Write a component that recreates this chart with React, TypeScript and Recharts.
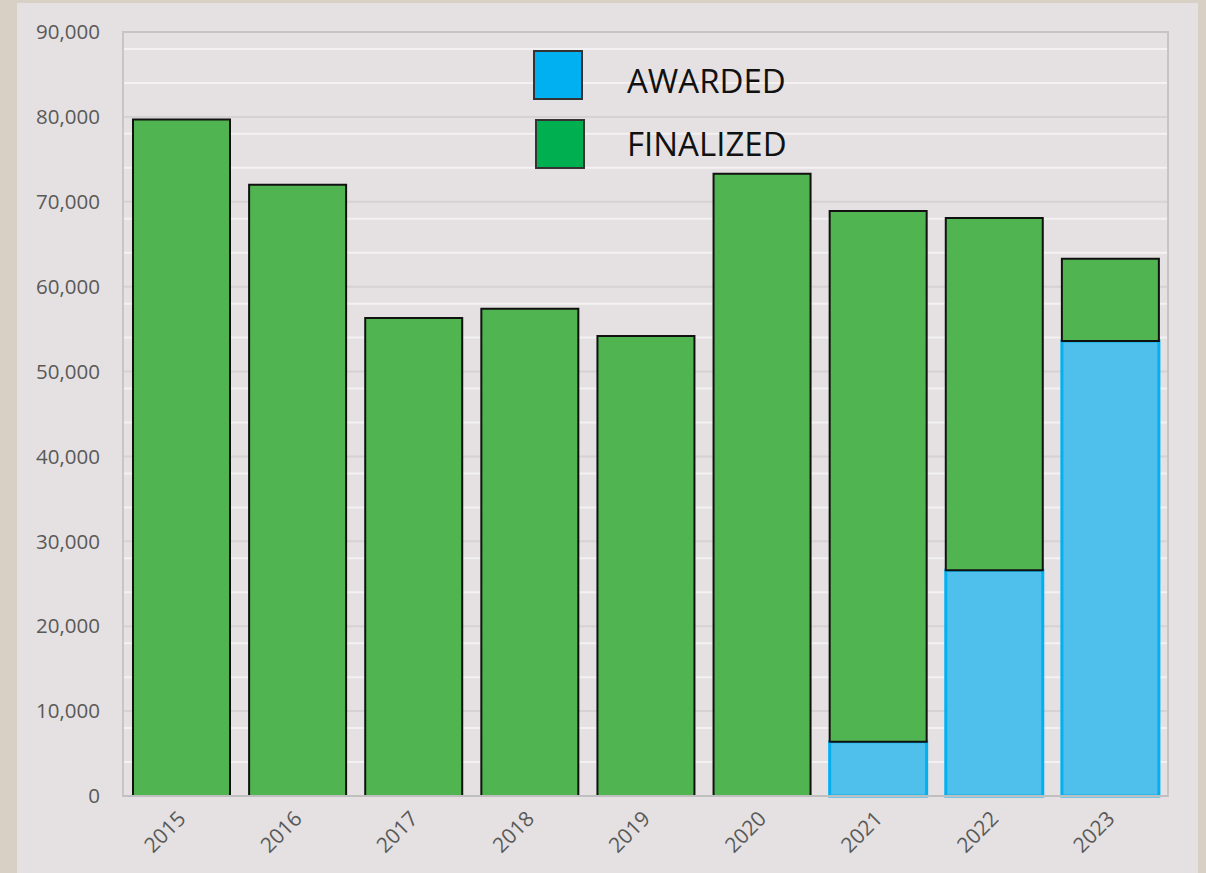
import { BarChart, Bar, XAxis, YAxis, CartesianGrid, ReferenceArea } from "recharts";

// Values (units: count).
const YEARS = ["2015", "2016", "2017", "2018", "2019", "2020", "2021", "2022", "2023"];
const AWARDED = [0, 0, 0, 0, 0, 0, 6400, 26600, 53600];
const FINALIZED = [79700, 72000, 56300, 57400, 54200, 73300, 62500, 41500, 9700];
const Y_TICKS = [0, 10000, 20000, 30000, 40000, 50000, 60000, 70000, 80000, 90000];
const MINOR_TICKS = [2000, 4000, 6000, 8000, 12000, 14000, 16000, 18000, 22000, 24000, 26000, 28000,
  32000, 34000, 36000, 38000, 42000, 44000, 46000, 48000, 52000, 54000, 56000, 58000,
  62000, 64000, 66000, 68000, 72000, 74000, 76000, 78000, 82000, 84000, 86000, 88000];

const LEGEND = [
  { name: "AWARDED", color: "#00b0f0" },
  { name: "FINALIZED", color: "#00b050" },
];

const data = YEARS.map((year, i) => ({
  year,
  awarded: AWARDED[i],
  finalized: FINALIZED[i],
}));

const FONT = "'Open Sans', sans-serif";
const TICK_COLOR = "#595959";

// rotated year labels, text ends just under the bar centre
function YearTick({ x, y, payload }: { x?: number; y?: number; payload?: { value: string } }) {
  const tx = (x ?? 0) + 6;
  const ty = (y ?? 0) + 16;
  return (
    <text
      x={tx}
      y={ty}
      transform={`rotate(-45, ${tx}, ${ty})`}
      textAnchor="end"
      fontSize={21}
      fill={TICK_COLOR}
      fontFamily={FONT}
    >
      {payload?.value}
    </text>
  );
}

function Legend() {
  return (
    <div style={{ position: "absolute", left: 533, top: 50, fontFamily: FONT }}>
      {LEGEND.map((item, i) => (
        <div key={item.name} style={{ display: "flex", alignItems: "center", height: 50, marginBottom: i === 0 ? 19 : 0 }}>
          <div
            style={{
              width: 46,
              height: 46,
              background: item.color,
              border: "2px solid #333333",
              marginLeft: i === 0 ? 0 : 2,
            }}
          />
          <span
            style={{
              fontSize: 33,
              color: "#111",
              marginLeft: i === 0 ? 44 : 42,
              position: "relative",
              top: i === 0 ? 5 : -1,
            }}
          >
            {item.name}
          </span>
        </div>
      ))}
    </div>
  );
}

export default function App() {
  return (
    <div style={{ position: "absolute", left: 0, top: 0, width: 1206, height: 873, background: "#d9d0c5", overflow: "hidden" }}>
      <div style={{ position: "absolute", left: 17, top: 3, width: 1181, height: 870, background: "#e5e1e2" }}>
        <BarChart
          width={1181}
          height={870}
          data={data}
          margin={{ top: 29, right: 30, bottom: 17, left: 0 }}
          style={{ fontFamily: FONT }}
        >
          {/* minor 2,000 lines in white, major 10,000 lines a shade darker */}
          <CartesianGrid vertical={false} horizontalValues={MINOR_TICKS} stroke="#f3f1f1" strokeWidth={2} />
          <CartesianGrid vertical={false} horizontalValues={Y_TICKS} stroke="#d6d1d3" strokeWidth={2} />
          <ReferenceArea y1={0} y2={90000} fill="none" stroke="#c9c3c7" strokeWidth={2} />
          <XAxis
            dataKey="year"
            tickLine={false}
            axisLine={{ stroke: "#bfbfbf", strokeWidth: 2 }}
            height={60}
            tick={<YearTick />}
            interval={0}
          />
          <YAxis
            width={106}
            domain={[0, 90000]}
            ticks={Y_TICKS}
            tickFormatter={(v: number) => v.toLocaleString("en-US")}
            tickLine={false}
            axisLine={false}
            tickSize={0}
            tickMargin={23}
            tick={{ fontSize: 20.5, fill: TICK_COLOR, fontFamily: FONT }}
          />
          <Bar
            dataKey="awarded"
            stackId="a"
            barSize={97}
            fill="#4fc0ec"
            stroke="#00b0f0"
            strokeWidth={3}
            isAnimationActive={false}
          />
          <Bar
            dataKey="finalized"
            stackId="a"
            barSize={97}
            fill="#50b450"
            stroke="#111111"
            strokeWidth={2}
            isAnimationActive={false}
          />
        </BarChart>
      </div>
      <Legend />
    </div>
  );
}
